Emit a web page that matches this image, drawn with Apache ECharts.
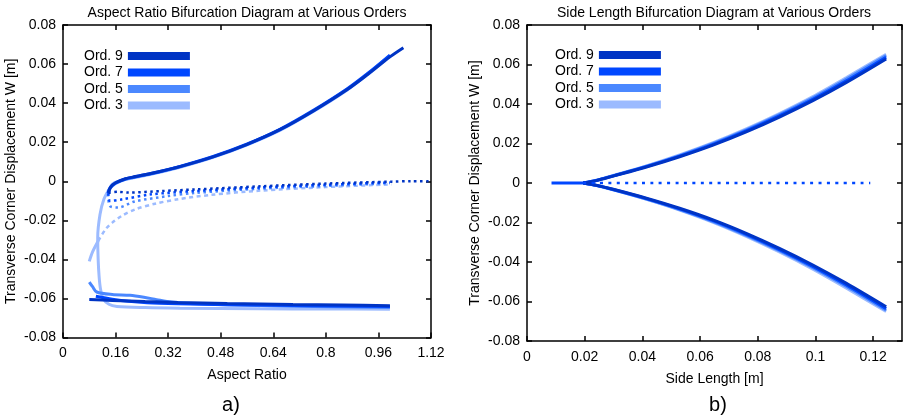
<!DOCTYPE html>
<html><head><meta charset="utf-8">
<script src="https://cdn.jsdelivr.net/npm/echarts@6/dist/echarts.min.js"></script>
<style>html,body{margin:0;padding:0;background:#fff}#c{width:904px;height:419px}</style>
</head><body><div id="c"></div>
<script>
// ---------- data ----------
const orders = ['Ord. 9', 'Ord. 7', 'Ord. 5', 'Ord. 3'];
const panelTitles = ['Aspect Ratio Bifurcation Diagram at Various Orders', 'Side Length Bifurcation Diagram at Various Orders'];
const panelTags = ['a)', 'b)'];

// Panel a) aspect ratio vs W  [aspect, W]
const ar9Upper = [[0.138,-0.0059],[0.145,-0.0030],[0.160,-0.0008],[0.190,0.0013],[0.220,0.0024],[0.295,0.0050],[0.356,0.0075],[0.457,0.0125],[0.559,0.0188],[0.660,0.0264],[0.762,0.0360],[0.863,0.0467],[0.928,0.0548],[0.995,0.0637],[1.036,0.0684]];
const ar7Upper = [[0.137,-0.0062],[0.144,-0.0032],[0.160,-0.0009],[0.190,0.0012],[0.220,0.0023],[0.295,0.0050],[0.356,0.0076],[0.457,0.0127],[0.559,0.0190],[0.660,0.0266],[0.762,0.0363],[0.863,0.0471],[0.928,0.0553],[0.995,0.0646]];
const ar5Upper = [[0.137,-0.0065],[0.144,-0.0034],[0.160,-0.0011],[0.190,0.0010],[0.220,0.0021],[0.295,0.0048],[0.356,0.0074],[0.457,0.0125],[0.559,0.0188],[0.660,0.0263],[0.762,0.0360],[0.863,0.0468],[0.928,0.0550],[0.995,0.0643]];
const ar3Upper = [[0.143,-0.0033],[0.150,-0.0015],[0.165,-0.0002],[0.190,0.0009],[0.220,0.0019],[0.295,0.0046],[0.356,0.0071],[0.457,0.0122],[0.559,0.0185],[0.660,0.0260],[0.762,0.0357],[0.863,0.0465],[0.928,0.0547],[0.995,0.0640]];

const ar9Unstable = [[0.138,-0.0059],[0.168,-0.0054],[0.199,-0.0058],[0.300,-0.0050],[0.402,-0.0042],[0.600,-0.0026],[0.800,-0.0012],[1.000,-0.0002],[1.060,0.0000],[1.120,0.0000]];
const ar7Unstable = [[0.138,-0.0062],[0.143,-0.0101],[0.178,-0.0093],[0.270,-0.0067],[0.402,-0.0050],[0.600,-0.0032],[0.800,-0.0018],[0.995,-0.0006]];
const ar5Unstable = [[0.137,-0.0065],[0.143,-0.0127],[0.168,-0.0134],[0.219,-0.0103],[0.320,-0.0076],[0.402,-0.0060],[0.600,-0.0038],[0.800,-0.0024],[0.995,-0.0010]];
const ar3Unstable = [[0.1075,-0.0305],[0.130,-0.0245],[0.150,-0.0212],[0.180,-0.0176],[0.220,-0.0144],[0.280,-0.0115],[0.350,-0.0092],[0.450,-0.0070],[0.600,-0.0048],[0.800,-0.0030],[1.000,-0.0016]];
const ar3Start = [[0.080,-0.0410],[0.090,-0.0362],[0.1075,-0.0305]];

const ar9Lower = [[0.080,-0.0606],[0.150,-0.0610],[0.250,-0.0616],[0.350,-0.0621],[0.500,-0.0626],[0.700,-0.0631],[0.850,-0.0634],[0.995,-0.0637]];
const ar7Lower = [[0.100,-0.0589],[0.150,-0.0604],[0.200,-0.0615],[0.256,-0.0622],[0.350,-0.0627],[0.500,-0.0632],[0.700,-0.0636],[0.995,-0.0641]];
const ar5Lower = [[0.080,-0.0516],[0.090,-0.0540],[0.1026,-0.0567],[0.150,-0.0580],[0.204,-0.0584],[0.250,-0.0595],[0.285,-0.0606],[0.330,-0.0618],[0.450,-0.0630],[0.700,-0.0640],[0.995,-0.0646]];
const ar3Lower = [[0.143,-0.0033],[0.125,-0.0090],[0.1126,-0.0170],[0.1056,-0.0289],[0.1070,-0.0400],[0.1100,-0.0490],[0.1140,-0.0550],[0.1220,-0.0600],[0.1400,-0.0630],[0.1643,-0.0641],[0.250,-0.0647],[0.356,-0.0650],[0.600,-0.0653],[0.800,-0.0654],[0.995,-0.0655]];

// Panel b) side length vs W
const slX = [0.0195,0.024,0.0299,0.0414,0.0529,0.0645,0.0760,0.0875,0.0991,0.1106,0.1245];
const sl9Upper = [0,0.0012,0.0035,0.0081,0.0133,0.0192,0.0259,0.0334,0.0417,0.0508,0.0628];
const sl7Upper = [0,0.0013,0.0036,0.0083,0.0136,0.0196,0.0264,0.0340,0.0424,0.0516,0.0637];
const sl5Upper = [0,0.0013,0.0037,0.0085,0.0139,0.0200,0.0269,0.0346,0.0431,0.0525,0.0645];
const sl3Upper = [0,0.0014,0.0038,0.0087,0.0142,0.0204,0.0274,0.0352,0.0438,0.0533,0.0652];
const sl9Lower = [0,-0.0011,-0.0032,-0.0077,-0.0128,-0.0187,-0.0255,-0.0331,-0.0415,-0.0507,-0.0627];
const sl7Lower = [0,-0.0012,-0.0033,-0.0079,-0.0131,-0.0191,-0.0260,-0.0337,-0.0422,-0.0515,-0.0636];
const sl5Lower = [0,-0.0012,-0.0034,-0.0081,-0.0134,-0.0195,-0.0265,-0.0343,-0.0429,-0.0523,-0.0644];
const sl3Lower = [0,-0.0013,-0.0035,-0.0083,-0.0137,-0.0199,-0.0270,-0.0349,-0.0436,-0.0531,-0.0651];
const slTrivialSolid = [[0.0085,0],[0.0195,0]];
const slTrivialUnstable = [[0.0195,0],[0.119,0]];

// ---------- styling ----------
const colors = {'Ord. 9':'#0034c4','Ord. 7':'#0047ff','Ord. 5':'#4b88ff','Ord. 3':'#9cbbff'};
const FONT = '"Liberation Sans", Arial, Helvetica, sans-serif';
const pairs = (xs, ys) => xs.map((x, i) => [x, ys[i]]);

function line(name, data, grid, dash, width, z) {
  return {
    type: 'line', name, data, xAxisIndex: grid * 2, yAxisIndex: grid * 2,
    symbol: 'none', smooth: 0.3, silent: true, z: z, animation: false,
    lineStyle: {color: colors[name], width: width, type: dash || 'solid', cap: 'butt'},
    itemStyle: {color: colors[name]}, emphasis: {disabled: true}
  };
}
const DOT_A = [2.5, 3.5], DASH_A3 = [4, 3.5], DOT_B = [3, 5.4];

const series = [
  // panel a
  line('Ord. 3', ar3Upper, 0, null, 3, 2),
  line('Ord. 3', ar3Lower, 0, null, 3, 2),
  line('Ord. 3', ar3Start, 0, null, 3, 2),
  line('Ord. 3', ar3Unstable, 0, DASH_A3, 2.5, 2),
  line('Ord. 5', ar5Upper, 0, null, 3, 3),
  line('Ord. 5', ar5Lower, 0, null, 3, 3),
  line('Ord. 5', ar5Unstable, 0, DOT_A, 2.5, 3),
  line('Ord. 7', ar7Upper, 0, null, 3, 4),
  line('Ord. 7', ar7Lower, 0, null, 3, 4),
  line('Ord. 7', ar7Unstable, 0, DOT_A, 2.5, 4),
  line('Ord. 9', ar9Upper, 0, null, 3, 5),
  line('Ord. 9', ar9Lower, 0, null, 3, 5),
  line('Ord. 9', ar9Unstable, 0, DOT_A, 2.5, 5),
  // panel b
  line('Ord. 3', pairs(slX, sl3Upper), 1, null, 3, 2),
  line('Ord. 3', pairs(slX, sl3Lower), 1, null, 3, 2),
  line('Ord. 5', pairs(slX, sl5Upper), 1, null, 3, 3),
  line('Ord. 5', pairs(slX, sl5Lower), 1, null, 3, 3),
  line('Ord. 7', pairs(slX, sl7Upper), 1, null, 3, 4),
  line('Ord. 7', pairs(slX, sl7Lower), 1, null, 3, 4),
  line('Ord. 9', pairs(slX, sl9Upper), 1, null, 3, 5),
  line('Ord. 9', pairs(slX, sl9Lower), 1, null, 3, 5),
  line('Ord. 7', slTrivialSolid, 1, null, 3, 5),
  line('Ord. 7', slTrivialUnstable, 1, DOT_B, 2.5, 5)
];

const axLine = {show: true, onZero: false, lineStyle: {color: '#000', width: 1.5}};
const axTick = {show: true, inside: true, length: 5, lineStyle: {color: '#000', width: 1.5}};
const axLabel = {color: '#000', fontSize: 14, fontFamily: FONT};
const nameStyle = {color: '#000', fontSize: 14, fontFamily: FONT};

function xAxes(grid, max, interval, name) {
  return [
    {type: 'value', gridIndex: grid, position: 'bottom', min: 0, max, interval,
     axisLine: axLine, axisTick: axTick, splitLine: {show: false},
     axisLabel: Object.assign({margin: 9, showMaxLabel: grid === 0}, axLabel),
     name, nameLocation: 'middle', nameGap: 31, nameTextStyle: nameStyle},
    {type: 'value', gridIndex: grid, position: 'top', min: 0, max, interval,
     axisLine: axLine, axisTick: axTick, splitLine: {show: false}, axisLabel: {show: false}}
  ];
}
function yAxes(grid) {
  return [
    {type: 'value', gridIndex: grid, position: 'left', min: -0.08, max: 0.08, interval: 0.02,
     axisLine: axLine, axisTick: axTick, splitLine: {show: false},
     axisLabel: Object.assign({margin: 7}, axLabel),
     name: 'Transverse Corner Displacement W [m]', nameLocation: 'middle', nameGap: 45, nameTextStyle: nameStyle},
    {type: 'value', gridIndex: grid, position: 'right', min: -0.08, max: 0.08, interval: 0.02,
     axisLine: axLine, axisTick: axTick, splitLine: {show: false}, axisLabel: {show: false}}
  ];
}
function legend(left, top) {
  return {data: orders, orient: 'vertical', left, top, align: 'right', icon: 'rect',
    itemWidth: 62, itemHeight: 8, itemGap: 0.5, padding: 0, selectedMode: false,
    itemStyle: {borderWidth: 0},
    textStyle: {color: '#000', fontSize: 14, fontFamily: FONT, lineHeight: 16}};
}
const titleStyle = {color: '#000', fontSize: 14, fontWeight: 'normal', fontFamily: FONT};
const tagStyle = {color: '#000', fontSize: 20, fontWeight: 'normal', fontFamily: FONT};

const option = {
  animation: false,
  backgroundColor: '#fff',
  textStyle: {fontFamily: FONT},
  title: [
    {text: panelTitles[0], left: 247, top: 6, textAlign: 'center', textStyle: titleStyle, padding: 0},
    {text: panelTitles[1], left: 714, top: 6, textAlign: 'center', textStyle: titleStyle, padding: 0},
    {text: panelTags[0], left: 231, top: 395, textAlign: 'center', textStyle: tagStyle, padding: 0},
    {text: panelTags[1], left: 718, top: 395, textAlign: 'center', textStyle: tagStyle, padding: 0}
  ],
  legend: [legend(84, 48), legend(555, 47)],
  grid: [
    {left: 63, top: 25, width: 368, height: 312.5},
    {left: 527, top: 25, width: 375, height: 316}
  ],
  xAxis: [].concat(xAxes(0, 1.12, 0.16, 'Aspect Ratio'), xAxes(1, 0.13, 0.02, 'Side Length [m]')),
  yAxis: [].concat(yAxes(0), yAxes(1)),
  series
};
const chart = echarts.init(document.getElementById('c'), null, {renderer: 'canvas'});
chart.setOption(option);
</script>
</body></html>
